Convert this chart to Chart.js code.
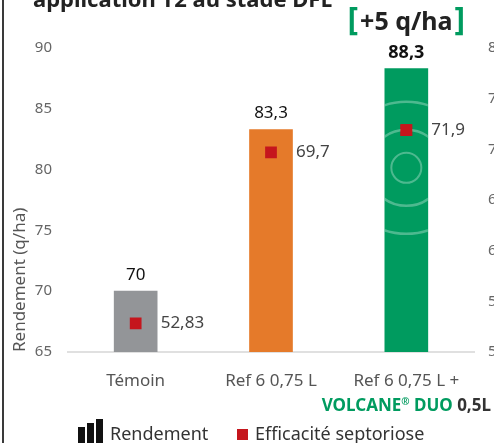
<html>
<head>
<script src="https://cdn.jsdelivr.net/npm/chart.js"></script>
<style>
  body { margin: 0; background: #fff; overflow: hidden; }
  #wrap { position: relative; width: 494px; height: 443px; }
  #wrap canvas { position: absolute; left: 0; top: 0; }
  #edge { position: absolute; left: 2px; top: 0; width: 2px; height: 443px; background: #3a3a3a; }
</style>
</head>
<body>
<div id="wrap">
  <canvas id="chart" width="494" height="443"></canvas>
  <div id="edge"></div>
</div>
<script>
const chartTitle = 'application T2 au stade DFE';
const categories = ['Témoin', 'Ref 6 0,75 L', 'Ref 6 0,75 L +'];
const productLine = ['VOLCANE', '®', ' DUO', ' 0,5L'];
const rendement = [70, 83.3, 88.3];
const efficacite = [52.83, 69.7, 71.9];
const gainLabel = '+5 q/ha';
const leftTicks = [65, 70, 75, 80, 85, 90];
const rightTicks = [50, 55, 60, 65, 70, 75, 80];
const barColors = ['#939598', '#e57a2a', '#009b5f'];
const pointColor = '#c5161d';
const green = '#009b5f';

const FONT = "'Noto Sans', sans-serif";
Chart.defaults.font.family = FONT;
const fmt = v => String(v).replace('.', ',');

// decorative rings on the highlighted bar, then the point on top again
const deco = {
  id: 'deco',
  afterDatasetsDraw(chart) {
    const el = chart.getDatasetMeta(0).data[2];
    const p = el.getProps(['x', 'y', 'width'], true);
    const base = chart.scales.y.bottom;
    const ctx = chart.ctx;
    const half = p.width / 2;
    const cy = p.y + (base - p.y) * 0.35;
    ctx.save();
    ctx.beginPath();
    ctx.rect(p.x - half, p.y, p.width, base - p.y);
    ctx.clip();
    ctx.strokeStyle = 'rgba(255,255,255,0.3)';
    ctx.lineWidth = 2;
    ctx.beginPath(); ctx.arc(p.x, cy, 15, 0, Math.PI * 2); ctx.stroke();
    ctx.lineWidth = 2.5;
    [38, 66].forEach(r => { ctx.beginPath(); ctx.arc(p.x, cy, r, 0, Math.PI * 2); ctx.stroke(); });
    ctx.restore();
    chart.getDatasetMeta(1).data[2].draw(ctx, chart.chartArea);
  }
};

const labels = {
  id: 'labels',
  afterDraw(chart) {
    const ctx = chart.ctx;
    const bars = chart.getDatasetMeta(0).data;
    const pts = chart.getDatasetMeta(1).data;
    ctx.save();
    ctx.textAlign = 'center';
    ctx.textBaseline = 'alphabetic';
    ctx.fillStyle = '#111';
    bars.forEach((b, i) => {
      ctx.font = (i === 2 ? 'bold 18px ' : '17px ') + FONT;
      ctx.fillText(fmt(rendement[i]), b.x, b.y - 11);
    });
    ctx.textAlign = 'left';
    ctx.textBaseline = 'middle';
    ctx.fillStyle = '#444';
    ctx.font = '17px ' + FONT;
    pts.forEach((p, i) => ctx.fillText(fmt(efficacite[i]), p.x + 25, p.y));

    // gain tag
    const gx = bars[2].x;
    ctx.font = 'bold 25px ' + FONT;
    const tw = ctx.measureText(gainLabel).width;
    ctx.font = 'bold 32px ' + FONT;
    const bw = ctx.measureText('[').width;
    const total = bw * 2 + tw + 4;
    let x = gx - total / 2;
    ctx.fillStyle = green;
    ctx.fillText('[', x, 21);
    ctx.fillText(']', x + bw + tw + 4, 21);
    ctx.font = 'bold 25px ' + FONT;
    ctx.fillStyle = '#222';
    ctx.fillText(gainLabel, x + bw + 2, 23);

    // title (cut off at top)
    ctx.textBaseline = 'alphabetic';
    ctx.font = 'bold 22px ' + FONT;
    ctx.fillStyle = '#222';
    ctx.fillText(chartTitle, 33, 7);

    // second line of third category
    const px = chart.scales.x.getPixelForValue(2);
    const big = 'bold 17px ' + FONT, sup = 'bold 10px ' + FONT;
    ctx.font = big; const w0 = ctx.measureText(productLine[0]).width;
    ctx.font = sup; const w1 = ctx.measureText(productLine[1]).width;
    ctx.font = big; const w2 = ctx.measureText(productLine[2]).width;
    const w3 = ctx.measureText(productLine[3]).width;
    x = px - (w0 + w1 + w2 + w3) / 2;
    const by = 411;
    ctx.fillStyle = green;
    ctx.fillText(productLine[0], x, by); x += w0;
    ctx.font = sup; ctx.fillText(productLine[1], x, by - 6); x += w1;
    ctx.font = big; ctx.fillText(productLine[2], x, by); x += w2;
    ctx.fillStyle = '#333';
    ctx.fillText(productLine[3], x, by);

    // legend
    ctx.fillStyle = '#111';
    [[78, 427], [87, 423], [96, 419]].forEach(([lx, ly]) => ctx.fillRect(lx, ly, 7, 443 - ly));
    ctx.font = '18px ' + FONT;
    ctx.fillStyle = '#333';
    ctx.textBaseline = 'middle';
    ctx.fillText(chart.data.datasets[0].label, 110, 435);
    ctx.fillStyle = pointColor;
    ctx.fillRect(237, 429, 11, 11);
    ctx.fillStyle = '#333';
    ctx.fillText(chart.data.datasets[1].label, 255, 435);
    ctx.restore();
  }
};

new Chart(document.getElementById('chart'), {
  data: {
    labels: categories,
    datasets: [
      {
        type: 'bar',
        label: 'Rendement',
        data: rendement,
        backgroundColor: barColors,
        barThickness: 43,
        yAxisID: 'y',
        order: 2
      },
      {
        type: 'line',
        label: 'Efficacité septoriose',
        data: efficacite,
        yAxisID: 'y1',
        showLine: false,
        pointStyle: 'rect',
        pointRadius: 8.3,
        pointBorderWidth: 0,
        pointBackgroundColor: pointColor,
        order: 1
      }
    ]
  },
  options: {
    responsive: false,
    animation: false,
    layout: { padding: { left: 0, right: 0, top: 48, bottom: 0 } },
    plugins: { legend: { display: false }, tooltip: { enabled: false } },
    scales: {
      x: {
        grid: { display: false, drawTicks: false },
        border: { display: true, color: '#e0e0e0', width: 2 },
        ticks: { color: '#555', font: { size: 17 }, padding: 19 },
        afterFit: s => { s.height = 91; }
      },
      y: {
        position: 'left',
        min: leftTicks[0],
        max: leftTicks[leftTicks.length - 1],
        grid: { display: false, drawTicks: false },
        border: { display: false },
        ticks: { color: '#666', font: { size: 15 }, padding: 16 },
        afterBuildTicks: s => { s.ticks = leftTicks.map(v => ({ value: v })); },
        title: {
          display: true,
          text: 'Rendement (q/ha)',
          align: 'start',
          color: '#555',
          font: { size: 17 },
          padding: { top: 10, bottom: 0 }
        },
        afterFit: s => { s.width = 68; }
      },
      y1: {
        position: 'right',
        min: rightTicks[0],
        max: rightTicks[rightTicks.length - 1],
        grid: { display: false, drawTicks: false },
        border: { display: false },
        ticks: { color: '#666', font: { size: 15 }, padding: 14 },
        afterBuildTicks: s => { s.ticks = rightTicks.map(v => ({ value: v })); },
        afterFit: s => { s.width = 20; }
      }
    }
  },
  plugins: [deco, labels]
});
</script>
</body>
</html>
